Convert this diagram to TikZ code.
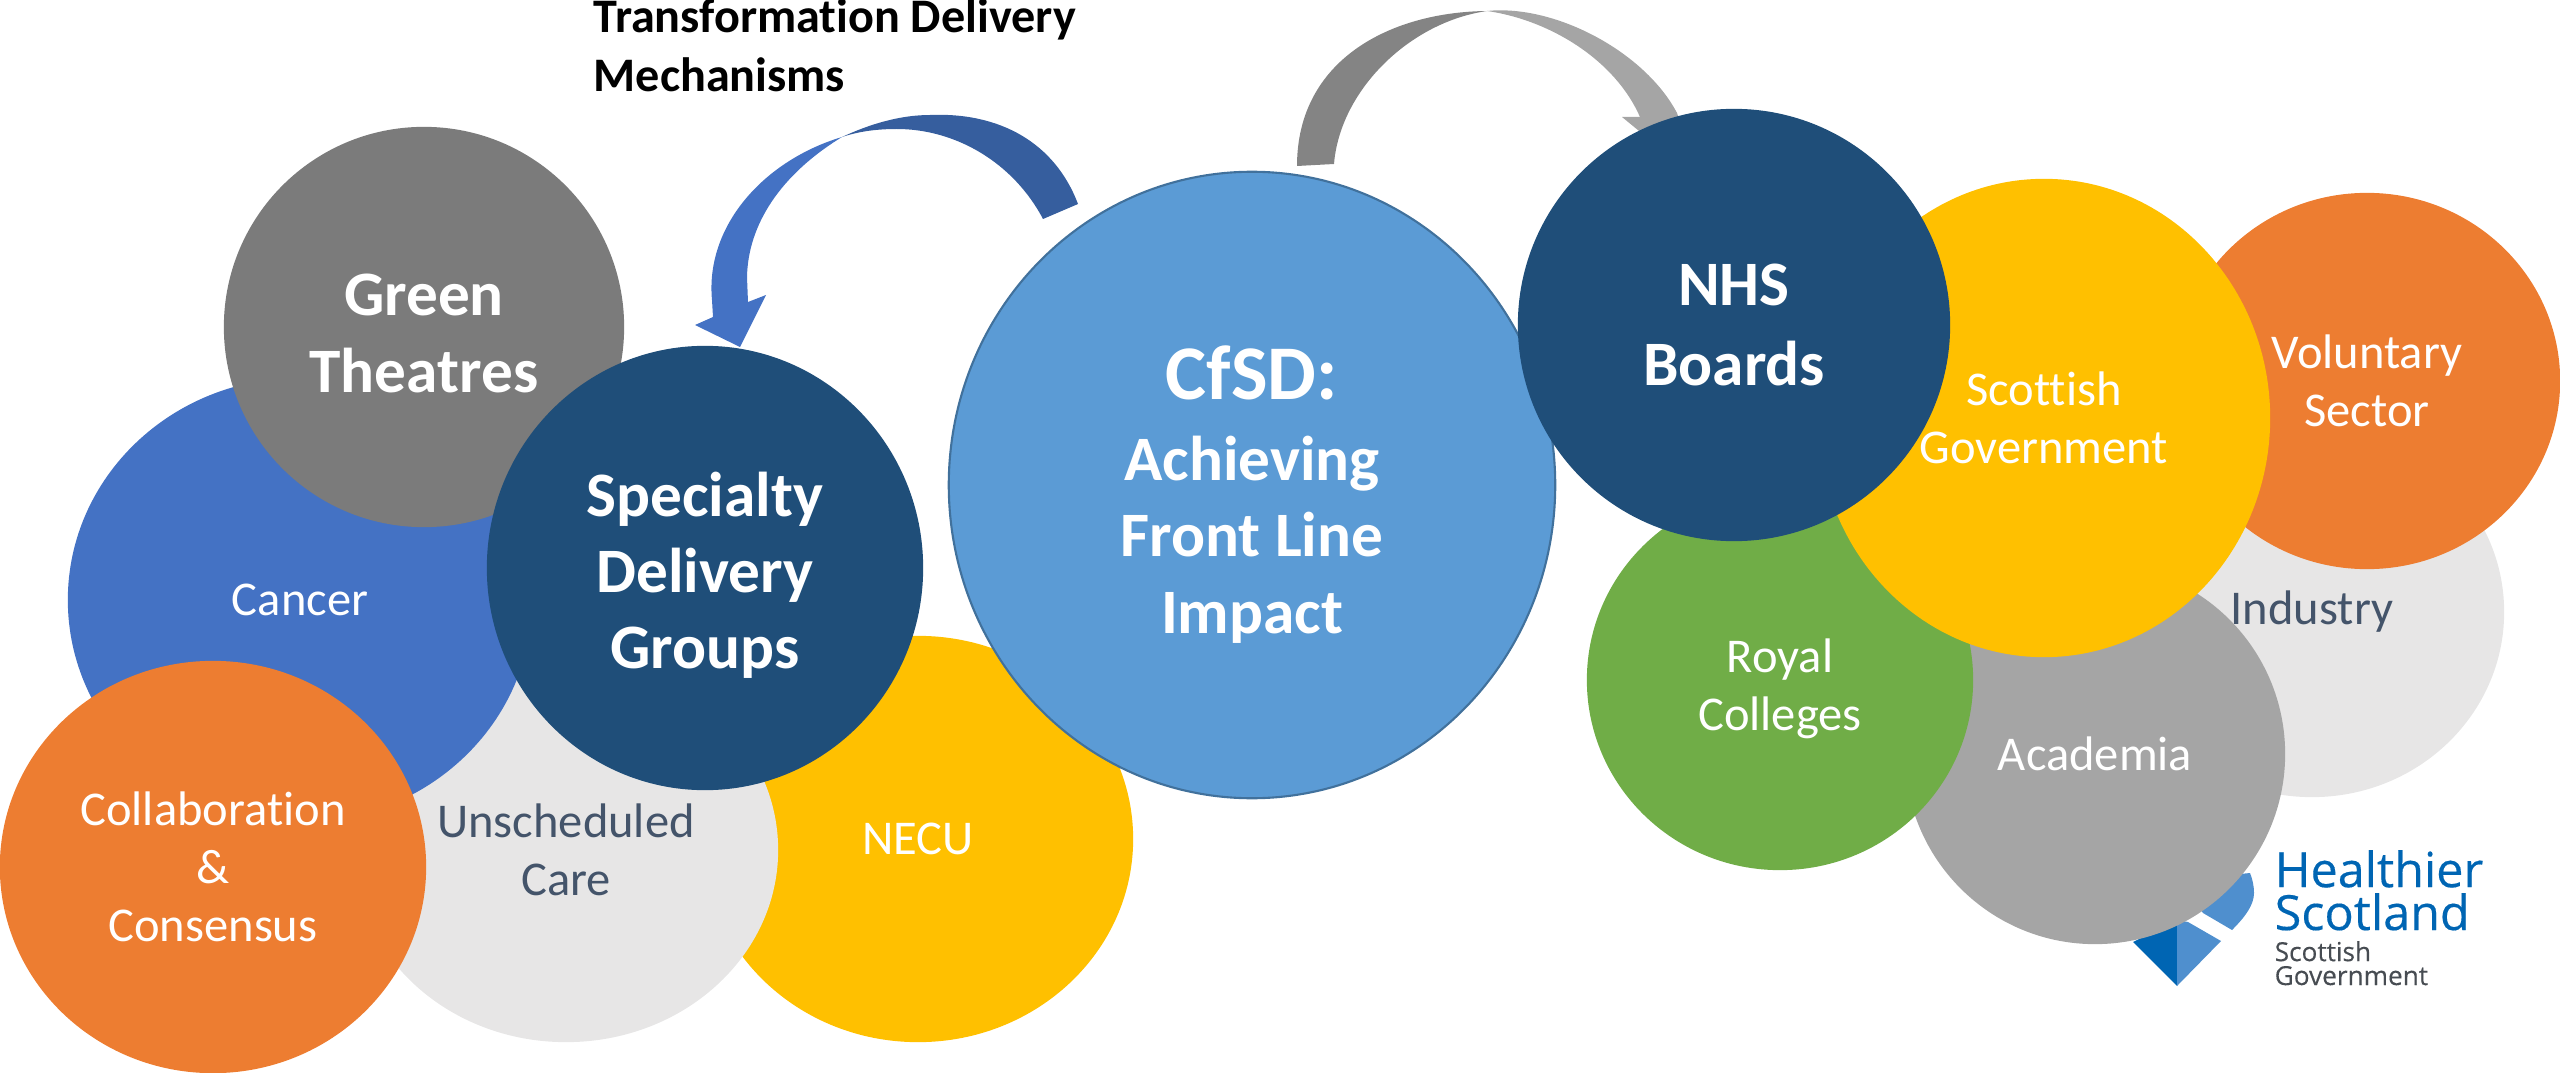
\documentclass[tikz,border=0pt]{standalone}
\usepackage{fontspec}
\usetikzlibrary{shapes.geometric}
\setmainfont[Ligatures=NoCommon]{Carlito}
\newfontfamily\logofont[FakeBold=0.3]{Open Sans}
\definecolor{navy}{HTML}{1F4E79}
\definecolor{skyblue}{HTML}{5B9BD5}
\definecolor{skyedge}{HTML}{41719C}
\definecolor{royalblue}{HTML}{4472C4}
\definecolor{arrowblue}{HTML}{365E9E}
\definecolor{orangefill}{HTML}{ED7D31}
\definecolor{yellowfill}{HTML}{FFC000}
\definecolor{greenfill}{HTML}{70AD47}
\definecolor{palegrey}{HTML}{E7E6E6}
\definecolor{midgrey}{HTML}{A5A5A5}
\definecolor{darkgrey}{HTML}{7B7B7B}
\definecolor{arrowgrey}{HTML}{848484}
\definecolor{slatetext}{HTML}{44546A}
\definecolor{logoblue}{HTML}{0065B3}
\definecolor{logolight}{HTML}{4F8FCE}
\definecolor{logogrey}{HTML}{474C52}
\newcommand{\droptext}[1]{\rule{0pt}{#1pt}}
\tikzset{
  bubble/.style n args={2}{ellipse,minimum width=#1*0.02cm,minimum height=#2*0.02cm,inner sep=0pt,align=center,text=white,font=\fontsize{13.8}{16.5}\selectfont},
  bigbubble/.style n args={2}{bubble={#1}{#2},font=\fontsize{18}{21.7}\selectfont\bfseries},
}
\begin{document}
\begin{tikzpicture}[x=0.01cm,y=-0.01cm]
    \useasboundingbox (0,0) rectangle (2560,1073);
    % left group
    \node[bubble={215}{203},fill=yellowfill] (necu) at (918,839) {NECU};
    \node[bubble={212}{192},fill=palegrey,text=slatetext] (care) at (566,850) {Unscheduled\\Care};
    \node[bubble={232}{222},fill=royalblue] (cancer) at (300,600) {Cancer};
    \node[bigbubble={200}{200},fill=darkgrey] (green) at (424,327) {\droptext{15.5}Green\\Theatres};
    \node[bubble={213}{206},fill=orangefill] (consensus) at (213,867) {Collaboration\\\&\\Consensus};
    \node[bigbubble={218}{222},fill=navy] (groups) at (705,568) {\droptext{16.7}Specialty\\Delivery\\Groups};
    % arrow to the groups
    \coordinate (tailA) at (1078,204);
    \coordinate (tipA) at (740,347);
    \fill[arrowblue] (tailA) .. controls (1055,143) and (1000,112) .. (930,115)
        .. controls (900,115) and (870,124) .. (842,137)
        .. controls (860,131) and (878,129) .. (897,129)
        .. controls (955,129) and (1013,162) .. (1043,219) -- cycle;
    \fill[royalblue] (842,137) .. controls (765,160) and (705,225) .. (712,300)
        -- (713,317) -- (695,325) -- (tipA) -- (766,295) -- (748,302)
        -- (747,277) .. controls (748,225) and (780,175) .. (842,137) -- cycle;
    \node[anchor=base west,inner sep=0pt,font=\fontsize{13.7}{16.8}\selectfont\bfseries,align=left] (title) at (593,92) {Transformation Delivery\\Mechanisms};
    % logo under the academia circle
    \fill[logolight] (2203,913) -- (2232,930) .. controls (2245,917) and (2254,905) .. (2254,893)
        .. controls (2254,885) and (2252,878) .. (2250,873) -- (2180,880) -- cycle;
    \fill[logoblue] (2133,942) -- (2177,986) -- (2177,920) -- cycle;
    \fill[logolight] (2177,920) -- (2188,922) -- (2221,941) -- (2177,986) -- cycle;
    \node[anchor=base west,inner sep=0pt,text=logoblue,font=\logofont\fontsize{13.8}{12.2}\selectfont,align=left] (healthier) at (2274,930) {Healthier\\Scotland};
    \node[anchor=base west,inner sep=0pt,text=logogrey,font=\logofont\fontsize{7.45}{6.8}\selectfont,align=left] (scottish) at (2274,985) {Scottish\\Government};
    % right group
    \node[bubble={192}{185},fill=palegrey,text=slatetext] (industry) at (2312,612) {Industry};
    \node[bubble={190}{190},fill=midgrey] (academia) at (2095,754) {Academia};
    \node[bubble={193}{190},fill=greenfill] (colleges) at (1780,680) {\droptext{14.5}Royal\\Colleges};
    \node[bubble={193}{188},fill=orangefill] (voluntary) at (2367,381) {Voluntary\\Sector};
    \node[bubble={226}{239},fill=yellowfill] (government) at (2044,418) {Scottish\\Government};
    % arrow to the boards
    \coordinate (tailB) at (1297,166);
    \coordinate (tipB) at (1650,140);
    \fill[arrowgrey] (tailB) .. controls (1297,60) and (1390,12) .. (1487,11)
        .. controls (1410,22) and (1340,90) .. (1334,164) -- cycle;
    \fill[midgrey] (1487,11) .. controls (1555,4) and (1645,52) .. (1677,113)
        -- (1685,135) -- (tipB) -- (1622,117) -- (1640,117)
        .. controls (1615,60) and (1550,20) .. (1487,11) -- cycle;
    \node[bigbubble={303}{313},fill=skyblue,draw=skyedge,line width=0.6pt] (impact) at (1252,485) {{\fontsize{22}{22}\selectfont\droptext{20.6}CfSD:}\\[1.4pt]Achieving\\Front Line\\Impact};
    \node[bigbubble={216}{216},fill=navy] (boards) at (1734,325) {NHS\\[1pt]Boards};
\end{tikzpicture}
\end{document}
